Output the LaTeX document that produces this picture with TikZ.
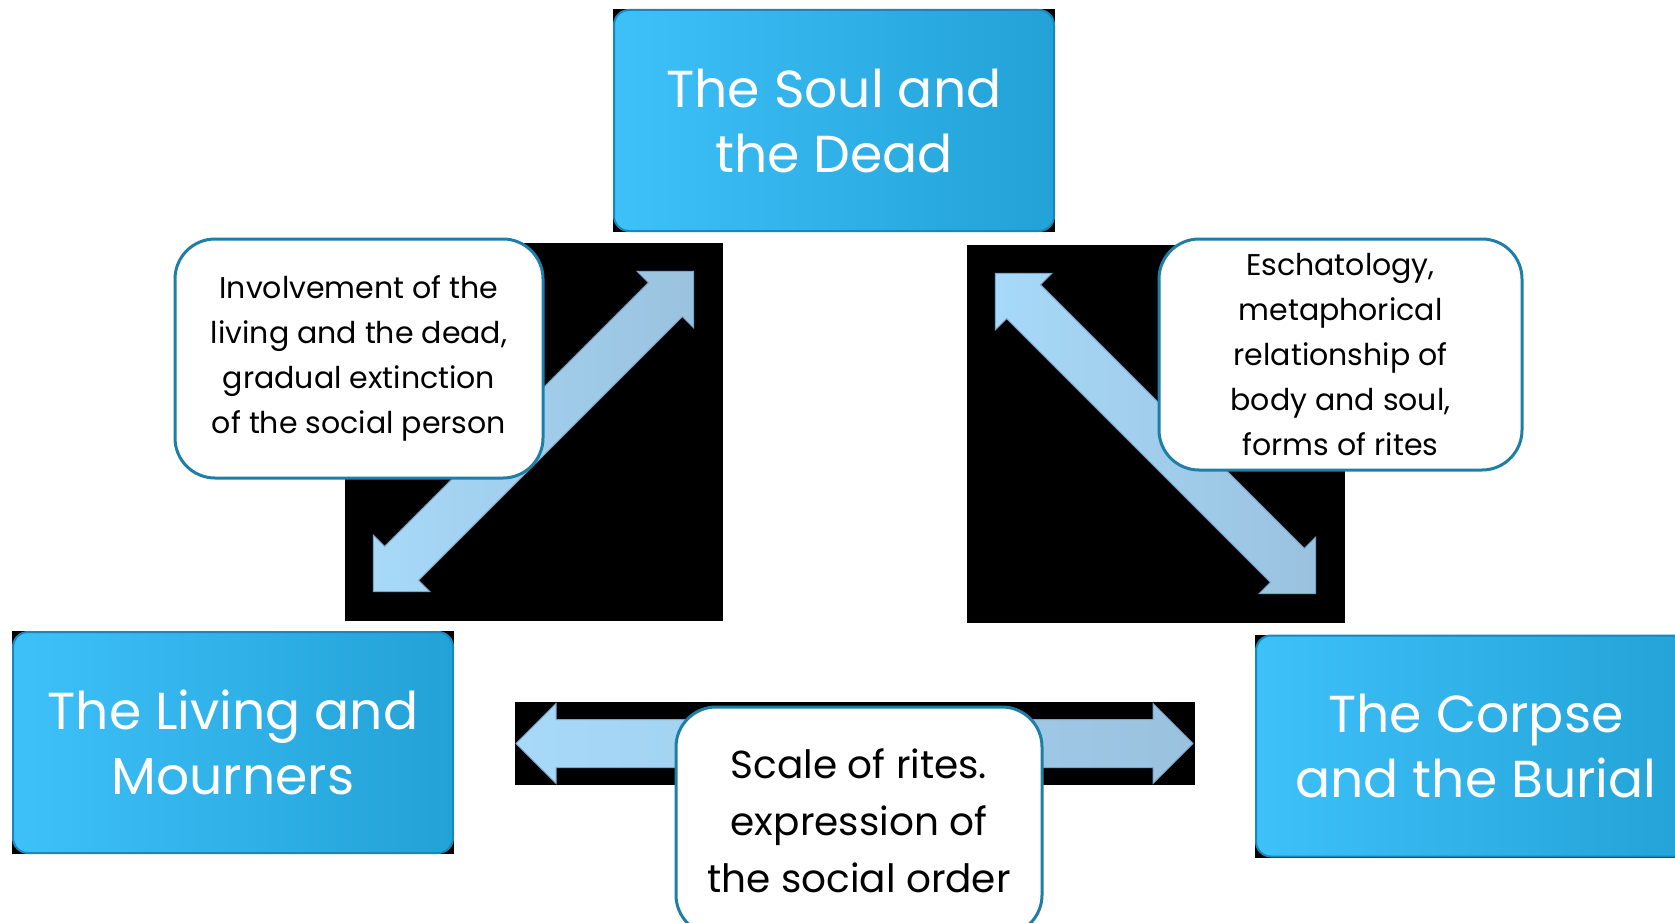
\documentclass[tikz,border=0pt]{standalone}
\usepackage{fontspec}
\setmainfont{Poppins}
\usetikzlibrary{shapes.arrows,backgrounds,positioning}
\definecolor{boxlight}{HTML}{3EC0F9}
\definecolor{boxdark}{HTML}{22A2D6}
\definecolor{boxline}{HTML}{1A87BA}
\definecolor{noteline}{HTML}{1F7EA6}
\definecolor{arrowlight}{HTML}{A7D9F8}
\definecolor{arrowdark}{HTML}{9AC2DF}
\definecolor{arrowline}{HTML}{7BA6CC}

\begin{document}
\begin{tikzpicture}[x=1pt,y=-1pt,
  bigbox/.style={rectangle,rounded corners=15pt,minimum width=440pt,minimum height=221pt,
                 left color=boxlight,right color=boxdark,draw=boxline,line width=2pt,
                 text=white,align=center,font=\fontsize{52}{65}\selectfont},
  note/.style={rectangle,rounded corners=40pt,fill=white,draw=noteline,line width=3pt,
               align=center,font=\fontsize{30}{45}\selectfont},
  dblarrow/.style={double arrow,double arrow head extend=16pt,
                   minimum height=453pt,inner xsep=0pt,inner ysep=23.5pt,
                   left color=arrowlight,right color=arrowdark,
                   draw=arrowline,line width=1pt},
  bgsq/.style={rectangle,fill=black,inner sep=0pt}
]
\useasboundingbox (0,0) rectangle (1675,923);
\clip (0,0) rectangle (1675,923);

% ---- Arrow centres ------------------------------------------
\coordinate (cL) at (533.5,431.5);
\coordinate (cR) at (1155.5,433.5);
\coordinate (cB) at (854.5,743.5);

% ---- Double arrows ------------------------------------------
\node[dblarrow,rotate=45]  (arrL) at (cL) {};
\node[dblarrow,rotate=-45] (arrR) at (cR) {};
\node[dblarrow,minimum height=677pt] (arrB) at (cB) {};

% ---- Call-outs ----------------------------------------------
\node[note,minimum width=368pt,minimum height=239pt] (involve) at (359,358.5)
  {Involvement of the\\living and the dead,\\gradual extinction\\of the social person};
\node[note,minimum width=363pt,minimum height=231pt] (escha) at (1340.5,354.5)
  {Eschatology,\\metaphorical\\relationship of\\body and soul,\\forms of rites};
\node[note,minimum width=366pt,minimum height=228pt,font=\fontsize{39}{57}\selectfont]
  (scale) at (859,821) {Scale of rites.\\expression of\\the social order};

% ---- Main boxes ---------------------------------------------
\node[bigbox] (soul)   at (834,120.5) {The Soul and\\the Dead};
\node[bigbox] (living) at (233,742.5) {The Living and\\Mourners};
\node[bigbox] (corpse) at (1476,746)  {The Corpse\\and the Burial};

% black frames behind shapes
\begin{scope}[on background layer]
  \node[bgsq,minimum size=378pt] (bgL) at (cL) {};
  \node[bgsq,minimum size=378pt] (bgR) at (cR) {};
  \node[bgsq,minimum width=680pt,minimum height=83pt] (bgB) at (cB) {};
  \foreach \b in {soul,living,corpse}
    \fill[black] (\b.south west) rectangle (\b.north east);
\end{scope}

\end{tikzpicture}
\end{document}
